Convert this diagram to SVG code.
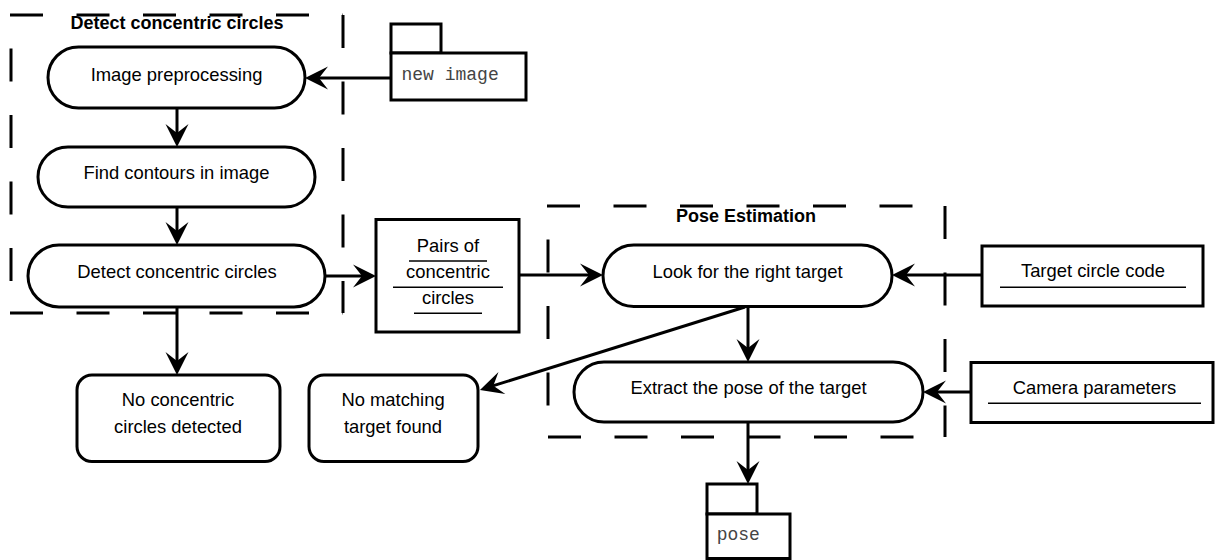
<svg xmlns="http://www.w3.org/2000/svg" width="1215" height="560" viewBox="0 0 1215 560">
<defs>
<style>
.node{fill:#fff;stroke:#000;stroke-width:3}
.lbl{font-family:"Liberation Sans",Arial,sans-serif;font-size:18.4px;fill:#000;text-anchor:middle}
.ttl{font-family:"Liberation Sans",Arial,sans-serif;font-size:18px;font-weight:bold;fill:#000;text-anchor:middle}
.mono{font-family:"Liberation Mono","Courier New",monospace;font-size:18px;fill:#444}
.ul{stroke:#000;stroke-width:1.6}
.dash{stroke:#000;stroke-width:3;stroke-dasharray:33 33.5;fill:none}
.dashg{stroke:#000;stroke-width:3;stroke-dasharray:33 33.5;stroke-dashoffset:33;fill:none}
.conn{stroke:#000;stroke-width:3;fill:none;marker-end:url(#arr)}
</style>
<marker id="arr" markerUnits="userSpaceOnUse" viewBox="-14 -13 26 26" refX="0" refY="0" markerWidth="26" markerHeight="26" orient="auto">
<path d="M10,0 L-13,-11.5 L-4,0 L-13,11.5 Z" fill="#000"/>
</marker>
</defs>

<g id="group-detect">
<line class="dash" x1="10" y1="15" x2="343" y2="15"/>
<line class="dash" x1="343" y1="15" x2="343" y2="313"/>
<line class="dash" x1="10" y1="313" x2="343" y2="313"/>
<line class="dashg" x1="11" y1="15" x2="11" y2="313"/>
<text class="ttl" x="177" y="29">Detect concentric circles</text>
</g>

<g id="group-pose">
<line class="dash" x1="547" y1="206" x2="945" y2="206"/>
<line class="dash" x1="945" y1="206" x2="945" y2="437"/>
<line class="dash" x1="548" y1="437" x2="945" y2="437"/>
<line class="dashg" x1="548" y1="206" x2="548" y2="437"/>
<text class="ttl" x="746" y="222">Pose Estimation</text>
</g>

<g id="connectors">
<line class="conn" x1="391" y1="78" x2="315" y2="78"/>
<line class="conn" x1="177" y1="108" x2="177" y2="137"/>
<line class="conn" x1="177" y1="207" x2="177" y2="235"/>
<line class="conn" x1="325" y1="276" x2="366" y2="276"/>
<line class="conn" x1="177" y1="307" x2="177" y2="365"/>
<line class="conn" x1="519" y1="275" x2="593" y2="275"/>
<line class="conn" x1="982" y1="275" x2="902" y2="275"/>
<line class="conn" x1="748" y1="307" x2="748" y2="352"/>
<line class="conn" x1="745" y1="307" x2="489.5" y2="386.9"/>
<line class="conn" x1="971" y1="392" x2="933" y2="392"/>
<line class="conn" x1="748" y1="422" x2="748" y2="474"/>
</g>

<g id="new-image">
<rect class="node" x="391" y="24" width="50" height="29"/>
<rect class="node" x="391" y="53" width="135" height="47"/>
<text class="mono" x="401.5" y="80">new image</text>
</g>

<g id="image-preprocessing">
<rect class="node" x="48" y="47" width="257" height="61" rx="30.5"/>
<text class="lbl" x="176.5" y="80.5">Image preprocessing</text>
</g>

<g id="find-contours">
<rect class="node" x="38" y="147" width="277" height="60" rx="30"/>
<text class="lbl" x="176.5" y="178.5">Find contours in image</text>
</g>

<g id="detect-circles">
<rect class="node" x="28" y="245" width="297" height="62" rx="31"/>
<text class="lbl" x="177" y="277.5">Detect concentric circles</text>
</g>

<g id="pairs">
<rect class="node" x="376" y="219.5" width="143" height="112.5"/>
<text class="lbl" x="448" y="252">Pairs of</text>
<line class="ul" x1="409" y1="261" x2="487" y2="261"/>
<text class="lbl" x="448" y="277.5">concentric</text>
<line class="ul" x1="393" y1="287.3" x2="503" y2="287.3"/>
<text class="lbl" x="448" y="304">circles</text>
<line class="ul" x1="414" y1="313.3" x2="482" y2="313.3"/>
</g>

<g id="no-circles">
<rect class="node" x="77" y="375" width="203" height="86.5" rx="15"/>
<text class="lbl" x="178" y="406">No concentric</text>
<text class="lbl" x="178" y="432.7">circles detected</text>
</g>

<g id="no-target">
<rect class="node" x="309" y="375" width="169" height="86.5" rx="15"/>
<text class="lbl" x="393" y="406">No matching</text>
<text class="lbl" x="393" y="432.7">target found</text>
</g>

<g id="look-target">
<rect class="node" x="603" y="245" width="289" height="61.5" rx="30.75"/>
<text class="lbl" x="747.5" y="277.5">Look for the right target</text>
</g>

<g id="extract-pose">
<rect class="node" x="574" y="362" width="349" height="60" rx="30"/>
<text class="lbl" x="748.5" y="394">Extract the pose of the target</text>
</g>

<g id="target-code">
<rect class="node" x="982" y="246" width="221" height="60"/>
<text class="lbl" x="1093" y="276.7">Target circle code</text>
<line class="ul" x1="1000" y1="287.3" x2="1186" y2="287.3"/>
</g>

<g id="camera-params">
<rect class="node" x="971" y="362.5" width="242" height="60"/>
<text class="lbl" x="1094.5" y="394">Camera parameters</text>
<line class="ul" x1="988" y1="403.3" x2="1201" y2="403.3"/>
</g>

<g id="pose">
<rect class="node" x="707" y="484" width="50" height="30"/>
<rect class="node" x="707" y="514" width="83" height="44.5"/>
<text class="mono" x="716.7" y="540">pose</text>
</g>
</svg>
